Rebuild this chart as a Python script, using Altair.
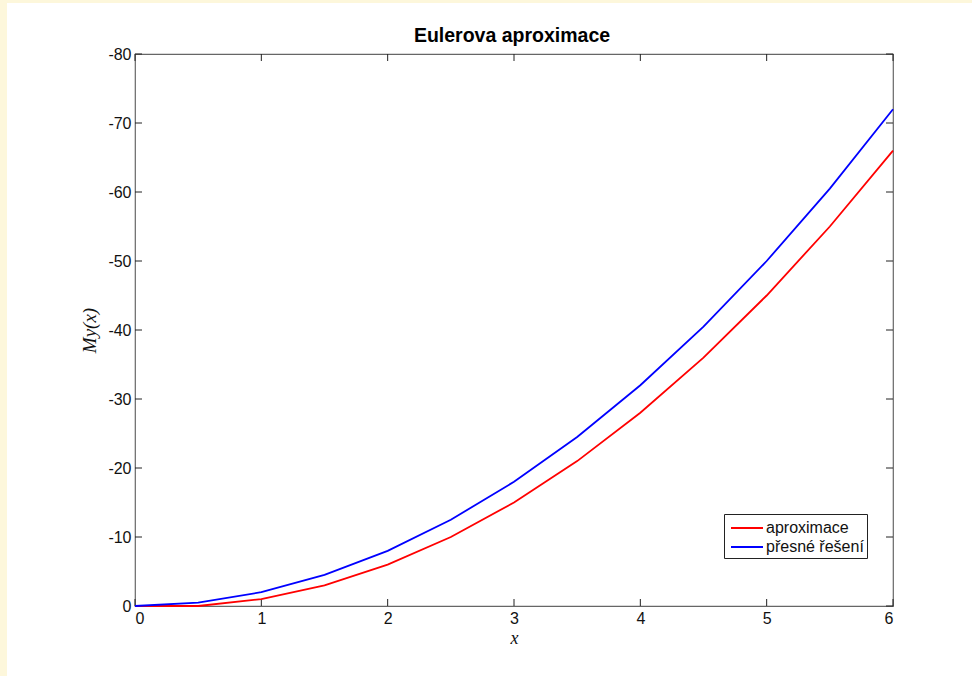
import altair as alt
import pandas as pd

x_vals = [0, 0.5, 1, 1.5, 2, 2.5, 3, 3.5, 4, 4.5, 5, 5.5, 6]
approx = [0, 0, -1, -3, -6, -10, -15, -21, -28, -36, -45, -55, -66]
exact = [0, -0.5, -2, -4.5, -8, -12.5, -18, -24.5, -32, -40.5, -50, -60.5, -72]
series_names = ["aproximace", "přesné řešení"]
series_colors = ["#FF0000", "#0000FF"]
x_ticks = [0, 1, 2, 3, 4, 5, 6]
y_ticks = [0, -10, -20, -30, -40, -50, -60, -70, -80]
title_text = ["Eulerova aproximace"]

W, H = 758, 552
PL, PT = 135, 54
YELLOW = "#FDF7DB"

df = pd.DataFrame({
    "x": x_vals * 2,
    "y": approx + exact,
    "s": [series_names[0]] * len(x_vals) + [series_names[1]] * len(x_vals),
})
xt = pd.DataFrame({"t": x_ticks})
yt = pd.DataFrame({"t": y_ticks})

xscale = alt.Scale(domain=[0, 6], nice=False, zero=False)
yscale = alt.Scale(domain=[0, -80], nice=False, zero=False)

one = pd.DataFrame({"a": [0]})
strip_left = alt.Chart(one).mark_rect(color=YELLOW).encode(
    x=alt.value(-PL), x2=alt.value(-PL + 7), y=alt.value(-PT), y2=alt.value(676 - PT))
strip_top = alt.Chart(one).mark_rect(color=YELLOW).encode(
    x=alt.value(-PL), x2=alt.value(972 - PL), y=alt.value(-PT), y2=alt.value(-PT + 3))

title = alt.Chart(pd.DataFrame({"t": title_text})).mark_text(
    font="Liberation Sans", fontSize=19.5, fontWeight="bold", color="#000",
    align="center", baseline="alphabetic").encode(
    text="t:N", x=alt.value(W / 2 - 2), y=alt.value(-12))

label_expr = "datum.value + ''"

lines = alt.Chart(df).mark_line(strokeWidth=1.8).encode(
    x=alt.X("x:Q", scale=xscale,
            axis=alt.Axis(values=x_ticks, labelExpr=label_expr, ticks=False, domain=False, grid=False,
                          labelPadding=4, labelFontSize=16, labelFont="Liberation Sans",
                          labelColor="#111", title="x", titleFont="Liberation Serif",
                          titleFontStyle="italic", titleFontWeight="normal", titleFontSize=18,
                          titlePadding=3, titleColor="#111")),
    y=alt.Y("y:Q", scale=yscale,
            axis=alt.Axis(values=y_ticks, labelExpr=label_expr, ticks=False, domain=False, grid=False,
                          labelPadding=4, labelFontSize=16, labelFont="Liberation Sans",
                          labelColor="#111", title="My(x)", titleFont="Liberation Serif",
                          titleFontStyle="italic", titleFontWeight="normal", titleFontSize=19,
                          titlePadding=8, titleColor="#111")),
    color=alt.Color("s:N", scale=alt.Scale(domain=series_names, range=series_colors),
                    legend=alt.Legend(title=None, orient="none", legendX=589, legendY=460,
                                      fillColor="white", strokeColor="#222", padding=3,
                                      symbolType="M-1.6,0H1.6", symbolSize=400,
                                      symbolStrokeWidth=2, symbolOffset=9,
                                      labelFontSize=16, labelFont="Liberation Sans",
                                      labelColor="#111", rowPadding=0, labelOffset=8,
                                      cornerRadius=0)),
)

tick_color = "#222"
bx = alt.Chart(xt).mark_rule(color=tick_color).encode(
    x=alt.X("t:Q", scale=xscale), y=alt.value(H), y2=alt.value(H - 7))
tx = alt.Chart(xt).mark_rule(color=tick_color).encode(
    x=alt.X("t:Q", scale=xscale), y=alt.value(0), y2=alt.value(7))
ly = alt.Chart(yt).mark_rule(color=tick_color).encode(
    y=alt.Y("t:Q", scale=yscale), x=alt.value(0), x2=alt.value(7))
ry = alt.Chart(yt).mark_rule(color=tick_color).encode(
    y=alt.Y("t:Q", scale=yscale), x=alt.value(W), x2=alt.value(W - 7))

chart = alt.layer(strip_left, strip_top, title, bx, tx, ly, ry, lines).properties(
    width=W, height=H,
    background="white",
    padding={"left": PL, "top": PT, "right": 972 - PL - W, "bottom": 676 - PT - H},
    autosize=alt.AutoSizeParams(type="none"),
).configure_view(stroke="#666", strokeWidth=1.2)

chart.save("out.html", embed_options={"renderer": "svg", "actions": False})
